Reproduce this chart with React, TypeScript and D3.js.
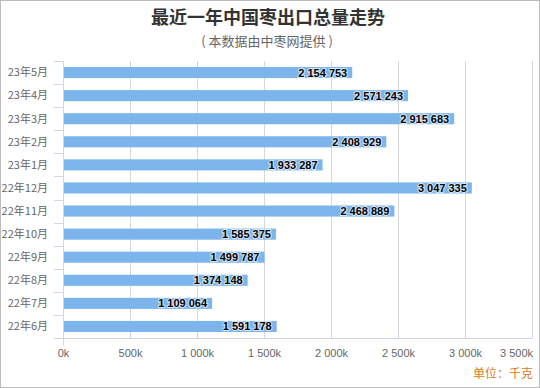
import React from "react";
import * as d3 from "d3";

const months = [
  "23年5月", "23年4月", "23年3月", "23年2月", "23年1月", "22年12月",
  "22年11月", "22年10月", "22年9月", "22年8月", "22年7月", "22年6月",
];
const exports = [
  2154753, 2571243, 2915683, 2408929, 1933287, 3047335,
  2468889, 1585375, 1499787, 1374148, 1109064, 1591178,
];
const ticks = [0, 500000, 1000000, 1500000, 2000000, 2500000, 3000000, 3500000];

const W = 540, H = 388;
const cjk = "'Noto Sans CJK SC', 'Noto Sans', sans-serif";
const num = "'Liberation Sans', Arial, sans-serif";

const spaced = (v: number) => d3.format(",")(v).replace(/,/g, " ");

export default function App() {
  const x = d3.scaleLinear().domain([0, 3500000]).range([63.5, 532.5]);
  const y = d3
    .scaleBand()
    .domain(months)
    .range([61, 338])
    .paddingInner(0.52)
    .paddingOuter(0.26);
  const step = y.step();
  const top = 61, bottom = 338;

  return (
    <div style={{ position: "absolute", left: 0, top: 0 }}>
      <svg width={W} height={H} style={{ display: "block", background: "#fff" }}>
        <rect x={0.5} y={0.5} width={W - 1} height={H - 1} fill="#fff" stroke="#bbb" />

        <text x={268} y={24} textAnchor="middle" fontFamily={cjk} fontSize={18} fontWeight="bold" fill="#333">
          最近一年中国枣出口总量走势
        </text>
        <text x={267} y={46} textAnchor="middle" fontFamily={cjk} fontSize={13} fill="#666">
          ( 本数据由中枣网提供 )
        </text>

        {/* grid */}
        {ticks.map((t) => (
          <line key={t} x1={x(t)} x2={x(t)} y1={top} y2={bottom} stroke="#d8d8d8" />
        ))}

        {/* bars */}
        {months.map((m, i) => (
          <rect
            key={m}
            x={x(0)}
            y={y(m)!}
            width={x(exports[i]) - x(0)}
            height={y.bandwidth()}
            fill="#7cb5ec"
          />
        ))}

        {/* category axis */}
        <line x1={63.5} x2={63.5} y1={top} y2={bottom + 7} stroke="#ccd6eb" />
        {d3.range(months.length + 1).map((i) => (
          <line key={i} x1={54} x2={63.5} y1={Math.round(top + i * step) + 0.5} y2={Math.round(top + i * step) + 0.5} stroke="#ccd6eb" />
        ))}
        {months.map((m) => (
          <text key={m} x={48} y={y(m)! + y.bandwidth() / 2} dy="0.35em" textAnchor="end" fontFamily={cjk} fontSize={11} fill="#666">
            {m}
          </text>
        ))}

        {/* value axis */}
        <line x1={63.5} x2={532.5} y1={bottom + 0.5} y2={bottom + 0.5} stroke="#ccd6eb" />
        {ticks.map((t) => (
          <line key={t} x1={x(t)} x2={x(t)} y1={bottom - 5} y2={bottom} stroke="#ccd6eb" />
        ))}
        {ticks.map((t, i) => (
          <text
            key={t}
            x={i === ticks.length - 1 ? 533 : x(t)}
            y={357}
            textAnchor={i === ticks.length - 1 ? "end" : "middle"}
            fontFamily={num}
            fontSize={11}
            fill="#666"
          >
            {spaced(t / 1000) + "k"}
          </text>
        ))}

        {/* data labels */}
        {months.map((m, i) => (
          <text
            key={m}
            x={x(exports[i]) - 5}
            y={y(m)! + y.bandwidth() / 2}
            dy="0.36em"
            textAnchor="end"
            fontFamily={num}
            fontSize={11}
            fontWeight="bold"
            fill="#000"
            stroke="#fff"
            strokeWidth={2}
            strokeOpacity={0.7}
            strokeLinejoin="round"
            paintOrder="stroke"
          >
            {spaced(exports[i])}
          </text>
        ))}

        <text x={533} y={378} textAnchor="end" fontFamily={cjk} fontSize={12} fill="#e0781e">
          单位：千克
        </text>
      </svg>
    </div>
  );
}
